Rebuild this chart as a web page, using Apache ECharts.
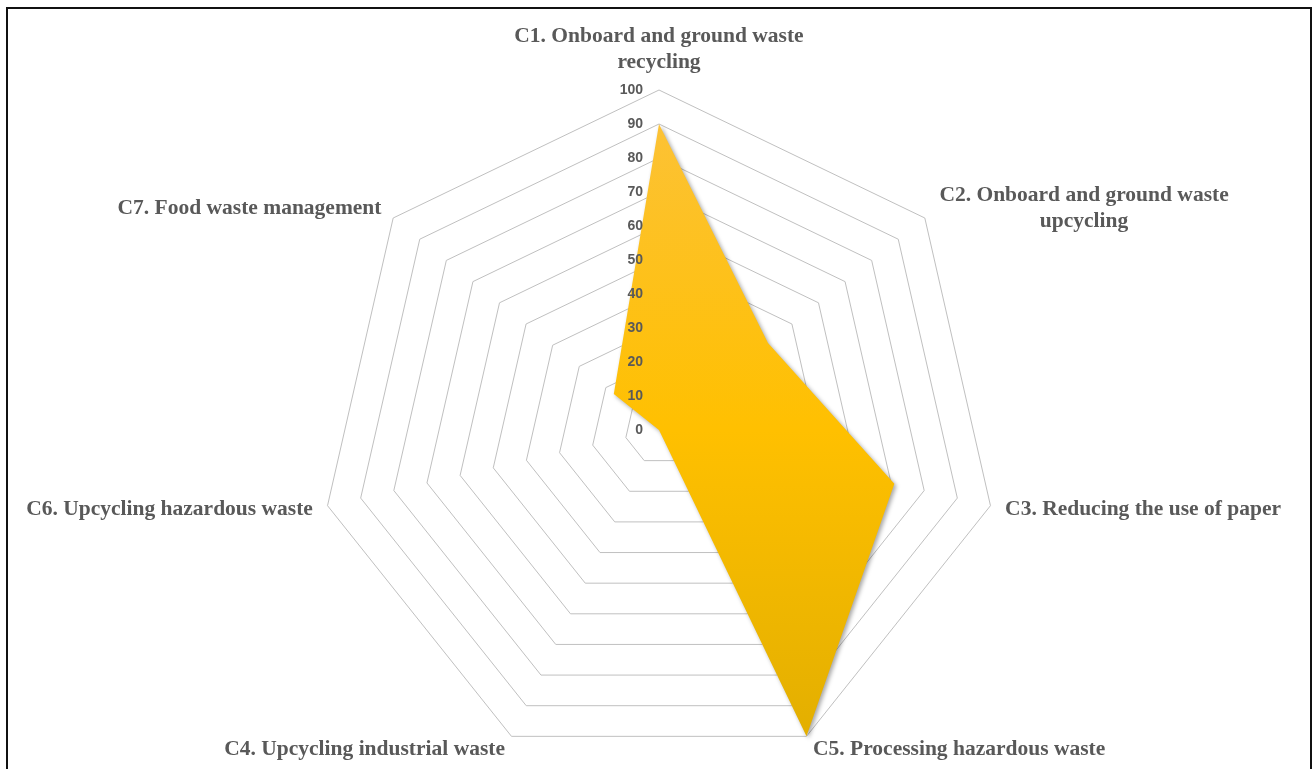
<!DOCTYPE html>
<html>
<head>
<meta charset="utf-8">
<script src="https://cdn.jsdelivr.net/npm/echarts@6/dist/echarts.min.js"></script>
<style>
  html, body { margin: 0; padding: 0; background: #fff; }
  #chart { position: absolute; left: 0; top: 0; width: 1312px; height: 769px; }
  #frame { position: absolute; left: 6px; top: 7px; width: 1302px; height: 800px;
           border: 2px solid #111; pointer-events: none; }
</style>
</head>
<body>
<div id="chart"></div>
<div id="frame"></div>
<script>
// criteria, listed clockwise from the top as in the picture
var categories = [
  'C1. Onboard and ground waste\nrecycling',
  'C2. Onboard and ground waste\nupcycling',
  'C3. Reducing the use of paper',
  'C5. Processing hazardous waste',
  'C4. Upcycling industrial waste',
  'C6. Upcycling hazardous waste',
  'C7. Food waste management'
]
var scores = [90, 41, 71, 100, 0, 0, 17]
var axisMin = 0
var axisMax = 100
var tickCount = 10

// echarts lays indicators out counter-clockwise, so keep the first and flip the rest
var order = [0].concat(categories.map(function (c, i) { return i }).slice(1).reverse())

var nameFont = { fontFamily: 'Liberation Serif', fontWeight: 'bold', fontSize: 21.5, color: '#595959' }
var center = [659, 430]
var radius = 340

function buildIndicators (withLabels) {
  return order.map(function (i, k) {
    var ind = { name: categories[i], min: axisMin, max: axisMax }
    if (withLabels && k === 0) {
      // only the top axis carries the scale labels
      ind.axisLabel = {
        show: true, color: '#595959', fontFamily: 'Liberation Sans',
        fontWeight: 'bold', fontSize: 14, margin: 16
      }
    }
    return ind
  })
}

var chart = echarts.init(document.getElementById('chart'))
chart.setOption({
  animation: false,
  backgroundColor: '#fff',
  radar: [{
    // grid rings and names, under the area
    center: center,
    radius: radius,
    startAngle: 90,
    splitNumber: tickCount,
    shape: 'polygon',
    axisNameGap: 15,
    indicator: buildIndicators(false),
    axisName: Object.assign({
      formatter: function (name) {
        if (name.indexOf('\n') < 0) return name
        return name.split('\n').map(function (l) { return '{w|' + l + '}' }).join('\n')
      },
      rich: {
        w: Object.assign({ width: 295, align: 'center', lineHeight: 26 }, nameFont)
      }
    }, nameFont),
    axisLine: { show: false },
    axisTick: { show: false },
    axisLabel: { show: false },
    splitArea: { show: false },
    splitLine: { lineStyle: { color: '#c0c0c0', width: 1 } }
  }, {
    // scale labels only, drawn on top of the area
    z: 10,
    center: center,
    radius: radius,
    startAngle: 90,
    splitNumber: tickCount,
    shape: 'polygon',
    indicator: buildIndicators(true),
    axisName: { show: false },
    axisLine: { show: false },
    axisTick: { show: false },
    axisLabel: { show: false },
    splitArea: { show: false },
    splitLine: { show: false }
  }],
  series: [{
    type: 'radar',
    radarIndex: 0,
    symbol: 'none',
    lineStyle: { width: 0, opacity: 0 },
    areaStyle: {
      opacity: 1,
      color: new echarts.graphic.LinearGradient(0, 0, 0, 1, [
        { offset: 0, color: '#fcc235' },
        { offset: 0.5, color: '#ffc000' },
        { offset: 1, color: '#e3af00' }
      ]),
      shadowColor: 'rgba(0,0,0,0.35)',
      shadowBlur: 4,
      shadowOffsetX: 2,
      shadowOffsetY: 2
    },
    data: [{ value: order.map(function (i) { return scores[i] }) }]
  }]
})
</script>
</body>
</html>
